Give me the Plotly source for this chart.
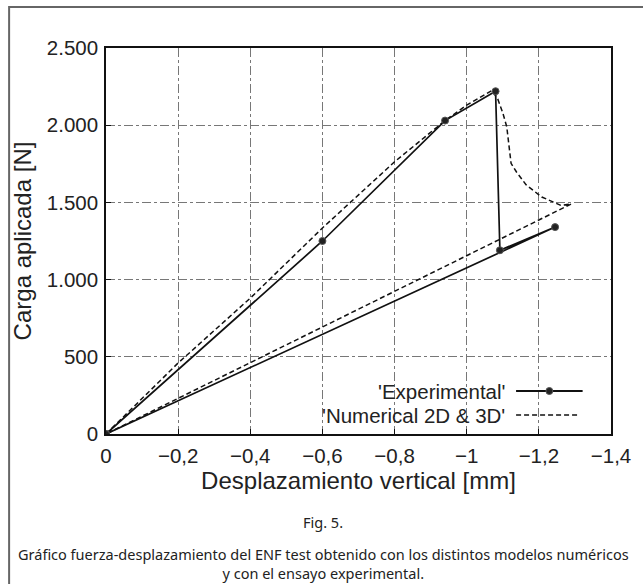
import plotly.graph_objects as go

# ---- data ----
exp_x = [0, -0.6, -0.94, -1.08, -1.092, -1.245, 0]
exp_y = [0, 1250, 2030, 2220, 1190, 1340, 0]

num_x = [0, -0.2, -0.4, -0.6, -0.8, -0.94, -1.0, -1.05, -1.07, -1.086, -1.10,
         -1.111, -1.123, -1.138, -1.165, -1.208, -1.262, -1.29, 0]
num_y = [0, 460, 880, 1334, 1763, 2030, 2130, 2200, 2225, 2170, 2080,
         1990, 1753, 1697, 1613, 1535, 1480, 1490, 0]

x_ticks = [0, -0.2, -0.4, -0.6, -0.8, -1.0, -1.2, -1.4]
x_ticktext = ["0", "\u22120,2", "\u22120,4", "\u22120,6", "\u22120,8", "\u22121", "\u22121,2", "\u22121,4"]
y_ticks = [0, 500, 1000, 1500, 2000, 2500]
y_ticktext = ["0", "500", "1.000", "1.500", "2.000", "2.500"]

legend_labels = ["'Experimental'", "'Numerical 2D & 3D'"]
x_title = "Desplazamiento vertical [mm]"
y_title = "Carga aplicada [N]"
fig_label = "Fig. 5."
caption = ("Gráfico fuerza-desplazamiento del ENF test obtenido con los distintos modelos numéricos"
           "<br>y con el ensayo experimental.")

# ---- layout geometry (pixels) ----
W, H = 643, 584
L, R, T, B = 106, 622, 48, 434


def px(x):
    return (x - L) / (R - L)


def py(y):
    return (B - y) / (B - T)


TXT = "#222222"
SANS = "Liberation Sans, Arial, sans-serif"
TICKFONT = dict(family=SANS, size=20.5, color=TXT)

fig = go.Figure()
fig.add_trace(go.Scatter(
    x=num_x, y=num_y, mode="lines",
    line=dict(color="#111111", width=1.5, dash="5px,3px"),
    showlegend=False, hoverinfo="skip"))
fig.add_trace(go.Scatter(
    x=exp_x, y=exp_y, mode="lines+markers",
    line=dict(color="#111111", width=1.7),
    marker=dict(symbol="circle", size=7, color="#222222", line=dict(color="#555555", width=1)),
    showlegend=False, hoverinfo="skip"))

axis_common = dict(
    showline=True, linecolor="#111111", linewidth=1.5, mirror=True,
    ticks="inside", ticklen=5, tickcolor="#111111", tickwidth=1,
    showgrid=True, gridcolor="#777777", gridwidth=1, griddash="dashdot",
    zeroline=False, tickfont=TICKFONT,
)

fig.update_xaxes(range=[0, -1.4], tickvals=x_ticks, ticktext=x_ticktext,
                 title=dict(text=x_title, font=dict(family=SANS, size=24, color=TXT), standoff=4),
                 ticklabelstandoff=3, **axis_common)
fig.update_yaxes(range=[0, 2500], tickvals=y_ticks, ticktext=y_ticktext,
                 title=dict(text=y_title, font=dict(family=SANS, size=24, color=TXT), standoff=8),
                 ticklabelstandoff=2, **axis_common)

shapes = []
# outer figure border
shapes.append(dict(type="rect", xref="paper", yref="paper",
                   x0=px(7), x1=px(W + 20), y0=py(H + 20), y1=py(7),
                   line=dict(color="#666666", width=2), fillcolor="rgba(0,0,0,0)", layer="below"))
# legend samples
shapes.append(dict(type="line", xref="paper", yref="paper",
                   x0=px(525), x1=px(593), y0=py(391), y1=py(391),
                   line=dict(color="#111111", width=2)))
shapes.append(dict(type="circle", xref="paper", yref="paper",
                   x0=px(555.5), x1=px(562.5), y0=py(394.5), y1=py(387.5),
                   fillcolor="#222222", line=dict(color="#555555", width=1)))
shapes.append(dict(type="line", xref="paper", yref="paper",
                   x0=px(525), x1=px(590), y0=py(415), y1=py(415),
                   line=dict(color="#111111", width=1.5, dash="5px,3px")))

annotations = [
    dict(text=legend_labels[0], xref="paper", yref="paper", x=px(516), y=py(391),
         xanchor="right", yanchor="middle", showarrow=False,
         font=dict(family=SANS, size=20.5, color=TXT)),
    dict(text=legend_labels[1], xref="paper", yref="paper", x=px(516), y=py(415),
         xanchor="right", yanchor="middle", showarrow=False,
         font=dict(family=SANS, size=20.5, color=TXT)),
    dict(text=fig_label, xref="paper", yref="paper", x=px(328), y=py(522),
         xanchor="center", yanchor="middle", showarrow=False,
         font=dict(family="Noto Sans, Open Sans, sans-serif", size=14.5, color=TXT)),
    dict(text=caption, xref="paper", yref="paper", x=px(328), y=py(563),
         xanchor="center", yanchor="middle", showarrow=False, align="center",
         font=dict(family="Noto Sans, Open Sans, sans-serif", size=14.5, color=TXT)),
]

fig.update_layout(
    width=W, height=H,
    margin=dict(l=L, r=W - R, t=T, b=H - B, pad=0),
    paper_bgcolor="white", plot_bgcolor="white",
    shapes=shapes, annotations=annotations,
    showlegend=False,
)

fig.write_html("out.html", config={"displayModeBar": False},
               post_script="document.body.style.margin='0px';document.body.style.overflow='hidden';")
